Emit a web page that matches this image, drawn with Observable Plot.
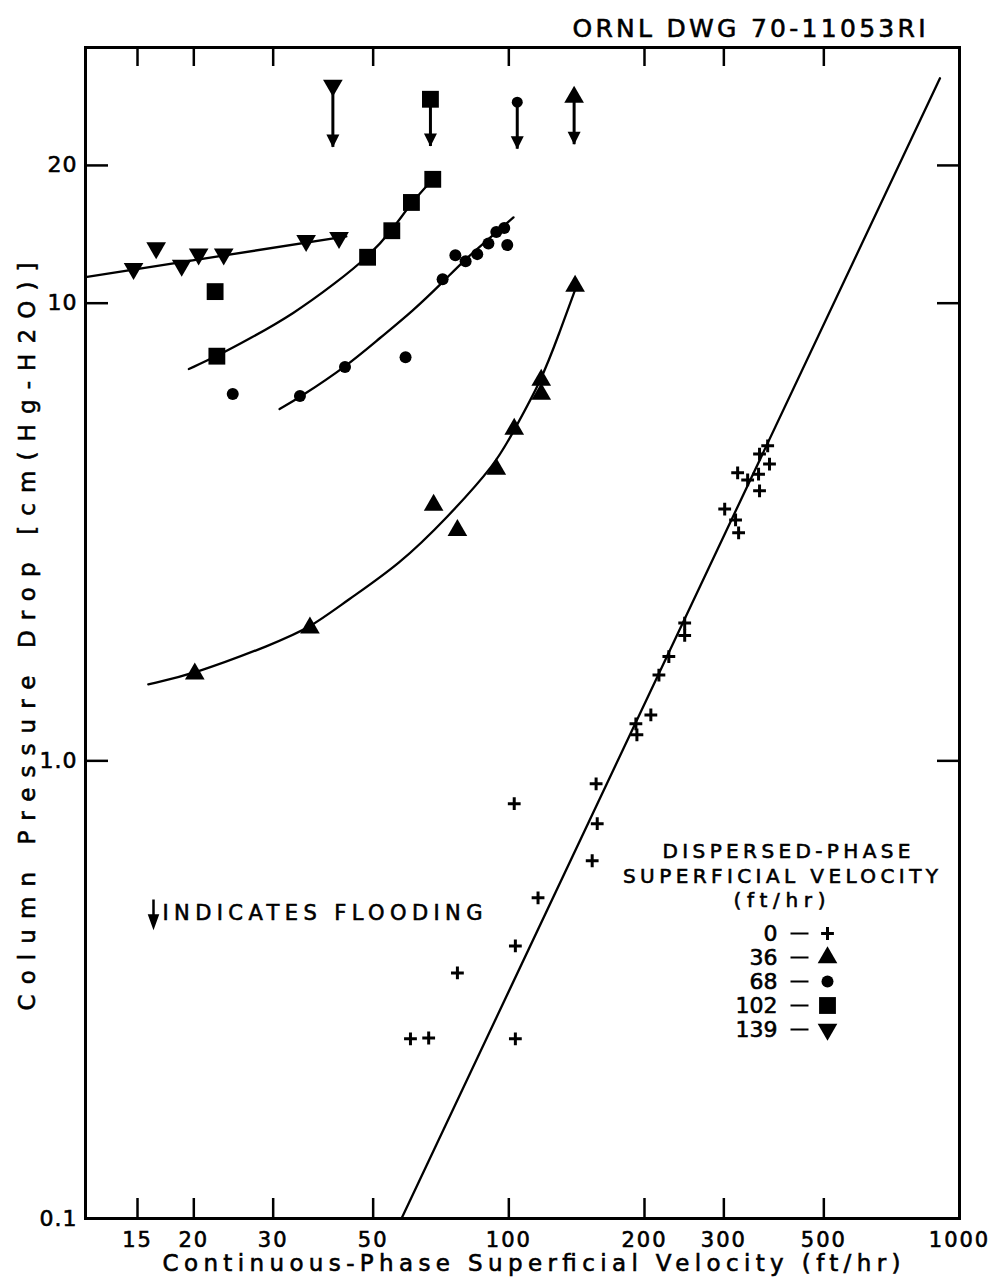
<!DOCTYPE html>
<html>
<head>
<meta charset="utf-8">
<script src="https://cdn.jsdelivr.net/npm/d3@7"></script>
<script src="https://cdn.jsdelivr.net/npm/@observablehq/plot@0.6"></script>
<style>
  html, body { margin: 0; padding: 0; background: #fff; }
  #chart svg { display: block; }
  #chart svg text { stroke: #000; stroke-width: 0.6px; }
  #chart g[aria-label="x-axis tick label"] text { letter-spacing: 2px; }
  #chart g[aria-label="y-axis tick label"] text { letter-spacing: 1px; }
</style>
</head>
<body>
<div id="chart"></div>
<script>
// ---------------- data ----------------
const xTicks = [15, 20, 30, 50, 100, 200, 300, 500, 1000];
const xTickLabels = ["15", "20", "30", "50", "100", "200", "300", "500", "1000"];
const yTicks = [0.1, 1, 10, 20];
const yTickLabels = ["0.1", "1.0", "10", "20"];

const rates = ["0", "36", "68", "102", "139"]; // dispersed-phase superficial velocity, ft/hr

// measured points: continuous-phase velocity (ft/hr) vs column pressure drop
const v0X = [102.8, 156.2, 157.1, 153.1, 116.1, 103.4, 76.9, 60.5, 66.4, 103.4,
             191.4, 192.4, 206.6, 215.3, 226.5, 245.6, 245.6,
             301.3, 318.5, 323.5, 321.9, 338.8, 358.2, 360.0, 360.0, 378.8, 375.3];
const v0Y = [0.806, 0.891, 0.729, 0.605, 0.502, 0.394, 0.344, 0.247, 0.248, 0.247,
             1.205, 1.14, 1.26, 1.54, 1.69, 2.00, 1.88,
             3.55, 3.36, 3.15, 4.26, 4.11, 4.23, 3.89, 4.68, 4.45, 4.88];

const v36X = [20.1, 36.2, 68.1, 76.9, 93.8, 102.8, 118.0, 118.0, 140.3];
const v36Y = [1.549, 1.952, 3.62, 3.19, 4.34, 5.31, 6.33, 6.79, 10.9];

const v68X = [24.4, 34.4, 43.3, 59.0, 71.3, 76.1, 80.2, 85.1, 90.1, 93.8, 97.7, 99.2];
const v68Y = [6.33, 6.27, 7.25, 7.62, 11.28, 12.73, 12.35, 12.8, 13.5, 14.3, 14.6, 13.4];

const v102X = [22.3, 22.5, 48.6, 55.0, 60.8, 67.8];
const v102Y = [10.6, 7.66, 12.6, 14.4, 16.6, 18.65];

const v139X = [14.7, 16.5, 18.8, 20.5, 23.3, 35.5, 42.0];
const v139Y = [11.9, 13.2, 12.1, 12.8, 12.8, 13.7, 13.9];

// hand-drawn fitted curves
const fit0X = [57.8, 905];
const fit0Y = [0.1, 31.0];
const fit36X = [15.85, 20.1, 30.0, 36.2, 43.6, 57.3, 72.8, 93.8, 101.8, 118.0, 129.4, 141.8];
const fit36Y = [1.47, 1.549, 1.80, 1.952, 2.236, 2.69, 3.39, 4.47, 5.20, 6.76, 8.60, 11.0];
const fit68X = [31.0, 34.4, 43.7, 51.7, 61.2, 71.3, 80.5, 90.6, 102.4];
const fit68Y = [5.87, 6.23, 7.29, 8.39, 9.61, 11.11, 12.54, 13.87, 15.4];
const fit102X = [19.5, 22.5, 26.7, 33.2, 41.5, 48.6, 55.0, 60.8, 67.8];
const fit102Y = [7.18, 7.66, 8.38, 9.46, 11.11, 12.6, 14.4, 16.6, 18.65];
const fit139X = [11.5, 43.6];
const fit139Y = [11.4, 14.0];

// flooding indicators
const floodRates = ["139", "102", "68", "36"];
const floodX = [40.7, 67.0, 104.4, 139.6];
const floodY = [29.9, 27.9, 27.5, 28.2];
const floodTipY = [21.9, 22.0, 21.7, 22.2];

// ---------------- helpers ----------------
const pts = (xs, ys) => xs.map((x, i) => ({x, y: ys[i]}));
const flood = floodRates.map((r, i) => ({rate: r, x: floodX[i], y: floodY[i], tip: floodTipY[i]}));

const arrowHead = {draw(ctx) { ctx.moveTo(0, 0); ctx.lineTo(-6.5, -13); ctx.lineTo(6.5, -13); ctx.closePath(); }};
const noteArrow = {draw(ctx) {
  ctx.moveTo(0, -13); ctx.lineTo(0, 4);
  ctx.moveTo(-4, 3); ctx.lineTo(4, 3); ctx.lineTo(0, 14); ctx.closePath();
}};
const dashSym = {draw(ctx) { ctx.moveTo(-9, 0); ctx.lineTo(9, 0); }};

const symbolOf = {
  "0": {symbol: "plus", r: 4.2, stroke: "black", strokeWidth: 3, fill: "none"},
  "36": {symbol: "triangle", r: 7.3, fill: "black"},
  "68": {symbol: "circle", r: 6, fill: "black"},
  "102": {symbol: "square", r: 9.5, fill: "black"},
  "139": {symbol: "triangle", r: 7.3, rotate: 180, fill: "black"}
};

const lineStyle = {x: "x", y: "y", stroke: "black", strokeWidth: 2.3, clip: true};
const note = {text: d => d, frameAnchor: "top-left", lineAnchor: "middle"};

const marks = [
  // fitted curves
  Plot.line(pts(fit0X, fit0Y), lineStyle),
  Plot.line(pts(fit36X, fit36Y), {...lineStyle, curve: "basis"}),
  Plot.line(pts(fit68X, fit68Y), {...lineStyle, curve: "basis"}),
  Plot.line(pts(fit102X, fit102Y), {...lineStyle, curve: "basis"}),
  Plot.line(pts(fit139X, fit139Y), lineStyle),
  // measured points
  Plot.dot(pts(v0X, v0Y), {x: "x", y: "y", ...symbolOf["0"]}),
  Plot.dot(pts(v36X, v36Y), {x: "x", y: "y", ...symbolOf["36"]}),
  Plot.dot(pts(v68X, v68Y), {x: "x", y: "y", ...symbolOf["68"]}),
  Plot.dot(pts(v102X, v102Y), {x: "x", y: "y", ...symbolOf["102"]}),
  Plot.dot(pts(v139X, v139Y), {x: "x", y: "y", ...symbolOf["139"]}),
  // flooding arrows
  Plot.ruleX(flood, {x: "x", y1: "y", y2: "tip", stroke: "black", strokeWidth: 3}),
  Plot.dot(flood, {x: "x", y: "tip", symbol: arrowHead, fill: "black", stroke: "none"}),
  ...floodRates.map(r => Plot.dot(flood.filter(d => d.rate === r),
      {x: "x", y: "y", ...symbolOf[r], ...(r === "68" ? {r: 5.5} : {})})),
  // axes
  Plot.axisX({anchor: "bottom", ticks: xTicks, tickSize: -20, tickPadding: 34, strokeWidth: 2.5,
              tickFormat: d => xTickLabels[xTicks.indexOf(d)], fontSize: 21, label: null}),
  Plot.axisX({anchor: "top", ticks: xTicks.slice(0, -1), tickSize: -18, strokeWidth: 2.5,
              tickFormat: () => "", label: null}),
  Plot.axisY({anchor: "left", ticks: yTicks, tickSize: -23, tickPadding: 31, strokeWidth: 2.5,
              tickFormat: d => yTickLabels[yTicks.indexOf(d)], fontSize: 22, label: null}),
  Plot.axisY({anchor: "right", ticks: yTicks.slice(1), tickSize: -23, strokeWidth: 2.5,
              tickFormat: () => "", label: null}),
  Plot.frame({stroke: "black", strokeWidth: 3}),
  // titles
  Plot.text(["ORNL DWG 70-11053RI"], {text: d => d, frameAnchor: "top-right", dx: -34, dy: -19,
              textAnchor: "end", lineAnchor: "middle", fontSize: 25}),
  Plot.text(["Continuous-Phase Superficial Velocity (ft/hr)"], {text: d => d, frameAnchor: "bottom",
              dx: 9, dy: 45, textAnchor: "middle", lineAnchor: "middle", fontSize: 23}),
  Plot.text(["Column Pressure Drop [cm(Hg-H2O)]"], {text: d => d, frameAnchor: "left",
              dx: -58, dy: 3.5, rotate: -90, textAnchor: "middle", lineAnchor: "middle", fontSize: 23}),
  // flooding note
  Plot.dot([0], {frameAnchor: "top-left", dx: 68, dy: 865, symbol: noteArrow, fill: "black",
              stroke: "black", strokeWidth: 2.5}),
  Plot.text(["INDICATES FLOODING"], {...note, dx: 77, dy: 866, textAnchor: "start", fontSize: 21}),
  // legend
  Plot.text(["DISPERSED-PHASE"], {...note, dx: 701, dy: 804, textAnchor: "middle", fontSize: 20}),
  Plot.text(["SUPERFICIAL VELOCITY"], {...note, dx: 695, dy: 829, textAnchor: "middle", fontSize: 20}),
  Plot.text(["(ft/hr)"], {...note, dx: 694, dy: 853, textAnchor: "middle", fontSize: 20}),
  ...rates.flatMap((r, i) => [
    Plot.text([r], {...note, dx: 692, dy: 886 + 24 * i, textAnchor: "end", fontSize: 22}),
    Plot.dot([0], {frameAnchor: "top-left", dx: 714, dy: 886 + 24 * i, symbol: dashSym,
                   stroke: "black", strokeWidth: 2, fill: "none"}),
    Plot.dot([0], {frameAnchor: "top-left", dx: 742, dy: 886 + 24 * i, ...symbolOf[r]})
  ])
];

const chart = Plot.plot({
  width: 998,
  height: 1281,
  marginLeft: 85,
  marginRight: 39,
  marginTop: 47,
  marginBottom: 63,
  style: {background: "#fff", color: "#000", fontFamily: "'DejaVu Sans', sans-serif", fontSize: "20px"},
  x: {type: "log", domain: [11.5, 1000]},
  y: {type: "log", domain: [0.1, 36.2]},
  marks
});

// spread lettering to the widths of the original stencil lettering
const spans = new Map([
  ["ORNL DWG 70-11053RI", 353],
  ["Continuous-Phase Superficial Velocity (ft/hr)", 738],
  ["Column Pressure Drop [cm(Hg-H2O)]", 748],
  ["INDICATES FLOODING", 320],
  ["DISPERSED-PHASE", 248],
  ["SUPERFICIAL VELOCITY", 315],
  ["(ft/hr)", 92]
]);
chart.querySelectorAll("text").forEach(t => {
  const w = spans.get(t.textContent);
  if (w) { t.setAttribute("textLength", w); t.setAttribute("lengthAdjust", "spacing"); }
});

document.getElementById("chart").append(chart);
</script>
</body>
</html>
